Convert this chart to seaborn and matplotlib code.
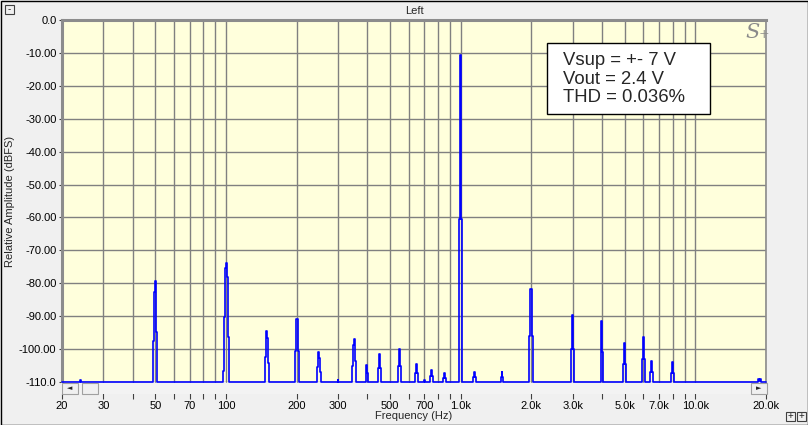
import numpy as np
import pandas as pd
import matplotlib
matplotlib.use('Agg')
import matplotlib.pyplot as plt
import seaborn as sns
from matplotlib.patches import Rectangle
from matplotlib.ticker import FixedLocator, NullFormatter

sns.set_theme(style='white')
plt.rcParams['font.family'] = ['Liberation Sans', 'DejaVu Sans']

# spectrum peaks: centre frequency (Hz) and the levels of the bins around it (dBFS, left to right)
peak_hz = [24, 50, 100, 150, 200, 250, 300, 350, 400, 450, 550, 650, 700, 750, 850,
           1000, 1150, 1500, 2000, 3000, 4000, 5000, 6000, 6500, 8000, 18700]
peak_shapes = [
    [-109.5],
    [-97.6, -82.7, -79.3, -94.8],
    [-106.7, -90.2, -75.5, -73.8, -78.0, -96.4],
    [-102.4, -94.5, -96.7, -104.3],
    [-100.6, -90.9, -90.9, -100.6],
    [-105.4, -100.9, -102.8, -107.0],
    [-109.4],
    [-105.0, -98.8, -97.0, -103.6],
    [-104.9, -107.3],
    [-105.8, -101.5, -105.8],
    [-105.0, -100.1, -105.0],
    [-107.3, -104.5, -107.3],
    [-109.4],
    [-108.2, -106.4, -108.2],
    [-108.8, -107.3, -108.8],
    [-60.5, -10.6, -60.5],
    [-108.5, -106.9, -108.5],
    [-108.5, -107.0, -108.5],
    [-96.0, -81.8, -81.8, -96.0],
    [-100.0, -89.7, -100.0],
    [-100.8, -91.5, -100.8],
    [-104.4, -98.2, -104.4],
    [-103.0, -96.4, -103.0],
    [-107.0, -103.6, -107.0],
    [-107.2, -103.9, -107.2],
    [-109.2, -109.7, -109.2],
]
floor_db = -110
bin_ratio = 1.0095  # spacing between neighbouring display bins

x_major = [20, 30, 50, 70, 100, 200, 300, 500, 700, 1000, 2000, 3000, 5000, 7000, 10000, 20000]
x_major_labels = ['20', '30', '50', '70', '100', '200', '300', '500', '700', '1.0k', '2.0k',
                  '3.0k', '5.0k', '7.0k', '10.0k', '20.0k']
x_minor = [40, 60, 80, 90, 400, 600, 800, 900, 4000, 6000, 8000, 9000]
y_ticks = list(range(0, -111, -10))
y_labels = ['0.0'] + [f'{v:.2f}' for v in y_ticks[1:-1]] + ['-110.0']

info_lines = ['Vsup = +- 7 V', 'Vout = 2.4 V', 'THD = 0.036%']

# build the stepped trace
hz, db = [20], [floor_db]
for f, shape in zip(peak_hz, peak_shapes):
    n = len(shape)
    offs = np.arange(-1, n + 1) - (n - 1) / 2
    for o, lev in zip(offs, [floor_db] + shape + [floor_db]):
        hz.append(f * bin_ratio ** o)
        db.append(lev)
hz.append(20000)
db.append(floor_db)
trace = pd.DataFrame({'hz': hz, 'db': db})

W, H = 808, 425
fig = plt.figure(figsize=(W / 100, H / 100), dpi=100, facecolor='#f0f0f0')
ax = fig.add_axes([62 / W, 1 - 382 / H, (766 - 62) / W, (382 - 20) / H])
ax.set_facecolor('#ffffdc')
ax.set_xscale('log')

sns.lineplot(data=trace, x='hz', y='db', estimator=None, sort=False, drawstyle='steps-mid',
             color='#0000ff', lw=1.2, ax=ax, clip_on=False, zorder=5)

ax.set_xlim(20, 20000)
ax.set_ylim(-110, 0)
ax.xaxis.set_major_locator(FixedLocator(x_major))
ax.set_xticklabels(x_major_labels)
ax.xaxis.set_minor_locator(FixedLocator(x_minor))
ax.xaxis.set_minor_formatter(NullFormatter())
ax.set_yticks(y_ticks)
ax.set_yticklabels(y_labels)
ax.grid(True, which='both', color='#808080', lw=1.0)
ax.tick_params(axis='x', which='both', direction='out', length=12, width=0.8, color='#404040',
               pad=2, labelsize=8, labelcolor='black', bottom=True)
ax.tick_params(axis='y', direction='out', length=2, width=0.8, color='#404040', pad=2,
               labelsize=8, labelcolor='black', left=True)
ax.set_xlabel('Frequency (Hz)', fontsize=8, labelpad=0)
ax.set_ylabel('Relative Amplitude (dBFS)', fontsize=8, labelpad=3)
ax.set_title('Left', fontsize=8, pad=4)

for side in ['top', 'left']:
    ax.spines[side].set_color('#8c8c8c')
    ax.spines[side].set_linewidth(2.2)
ax.spines['right'].set_color('#8c8c8c')
ax.spines['right'].set_linewidth(1.2)
ax.spines['bottom'].set_visible(False)


def px_rect(x0, y0, x1, y1, **kw):
    r = Rectangle((x0 / W, 1 - y1 / H), (x1 - x0) / W, (y1 - y0) / H,
                  transform=fig.transFigure, **kw)
    fig.add_artist(r)
    return r


# scrollbar under the plot
px_rect(61, 383, 767, 394, facecolor='#f3f3f3', edgecolor='none', zorder=10)
px_rect(62, 383, 78, 394, facecolor='#f0f0f0', edgecolor='#a0a0a0', lw=0.8, zorder=11)
px_rect(82, 383, 98, 394, facecolor='#f0f0f0', edgecolor='#a0a0a0', lw=0.8, zorder=11)
px_rect(751, 383, 767, 394, facecolor='#f0f0f0', edgecolor='#a0a0a0', lw=0.8, zorder=11)
fig.text(70 / W, 1 - 388.5 / H, '\u25c4', fontsize=5, ha='center', va='center', zorder=12,
         family='DejaVu Sans')
fig.text(759 / W, 1 - 388.5 / H, '\u25ba', fontsize=5, ha='center', va='center', zorder=12,
         family='DejaVu Sans')

# small window buttons
px_rect(5, 5, 14, 14, facecolor='#f0f0f0', edgecolor='#404040', lw=0.8, zorder=11)
fig.text(9.5 / W, 1 - 9.5 / H, '-', fontsize=7, ha='center', va='center', zorder=12)
for bx in (786, 797):
    px_rect(bx, 412, bx + 9, 421, facecolor='#f0f0f0', edgecolor='#404040', lw=0.8, zorder=11)
    fig.text((bx + 4.5) / W, 1 - 416.5 / H, '+', fontsize=7, ha='center', va='center', zorder=12)

# info box
px_rect(547, 43, 710, 114, facecolor='white', edgecolor='black', lw=1.0, zorder=11)
fig.text(563 / W, 1 - 79 / H, '\n'.join(info_lines), fontsize=13.3, ha='left', va='center',
         linespacing=1.12, zorder=12)

# logo
fig.text(745 / W, 1 - 33 / H, 'S', fontsize=15, family='DejaVu Serif', style='italic',
         color='#8a8a8a', ha='left', va='center', zorder=12)
fig.text(759 / W, 1 - 35 / H, '+', fontsize=9, family='DejaVu Serif', color='#8a8a8a',
         ha='left', va='center', zorder=12)

# window border
px_rect(0.5, 0.5, W - 0.5, H - 0.5, facecolor='none', edgecolor='black', lw=1.0, zorder=20)

fig.savefig('out.png', dpi=100, facecolor=fig.get_facecolor())
